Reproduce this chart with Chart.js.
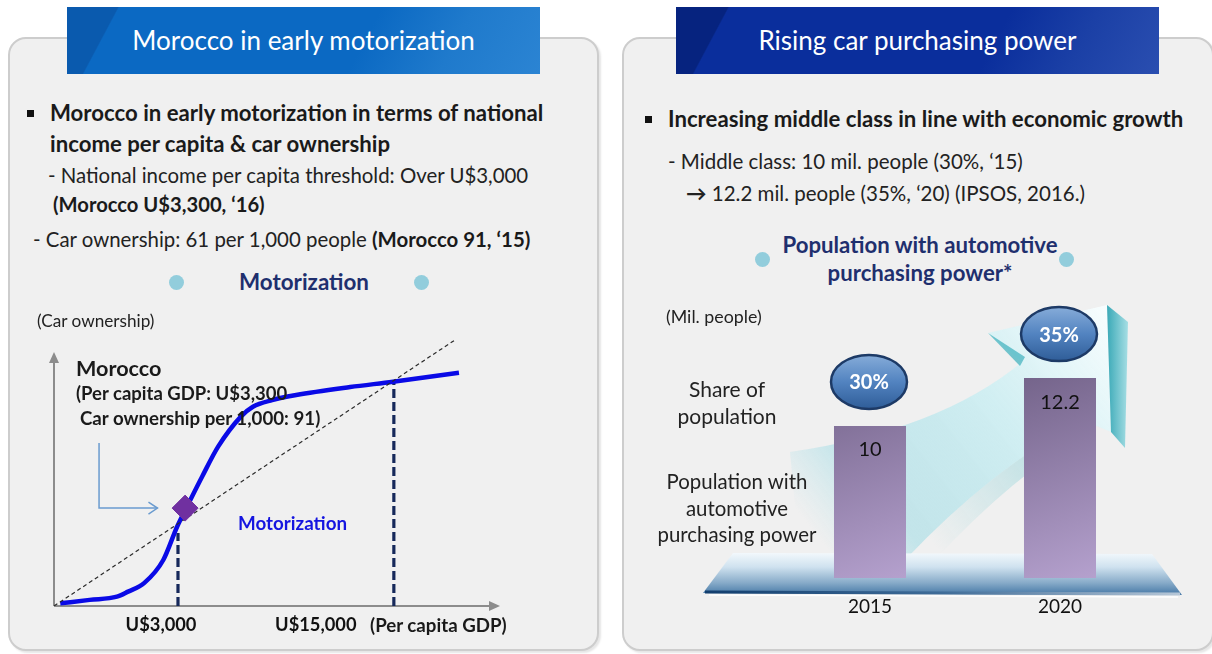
<!DOCTYPE html>
<html><head><meta charset="utf-8">
<script src="https://cdn.jsdelivr.net/npm/chart.js@4.4.1/dist/chart.umd.min.js"></script>
<style>
html,body{margin:0;padding:0;background:#fff;width:1212px;height:654px;overflow:hidden;font-family:Lato,'Noto Sans',sans-serif;color:#1a1a1a;}
.t{position:absolute;white-space:nowrap;line-height:26px;height:26px;}
.c{transform:translateX(-50%);text-align:center;}
.b{font-weight:700;}
.panel{position:absolute;box-sizing:border-box;background:#f0f0f0;border:2px solid #cdcdcd;border-radius:18px;box-shadow:2px 2px 2px rgba(0,0,0,0.10);}
.banner{position:absolute;top:7px;height:67px;line-height:66px;color:#fff;font-size:26px;text-align:center;}
.sq{position:absolute;width:7px;height:7px;background:#111;}
.dot{position:absolute;width:15px;height:15px;border-radius:50%;background:#92cddc;}
canvas{position:absolute;}
</style></head>
<body>
<div class="panel" style="left:8px;top:37px;width:591px;height:614px;"></div>
<div class="panel" style="left:622px;top:37px;width:592px;height:614px;"></div>
<div class="banner" style="left:67px;width:473px;background:linear-gradient(118deg,#0a5aae 0%,#0a5aae 10%,#0b69c3 10.3%,#0b69c3 62%,#1f7acc 80%,#2b84d3 100%);">Morocco in early motorization</div>
<div class="banner" style="left:676px;width:483px;background:linear-gradient(118deg,#06237f 0%,#06237f 10%,#0a2e9c 10.3%,#0a2e9c 65%,#1b40a6 82%,#2a4eb0 100%);">Rising car purchasing power</div>

<!-- left texts -->
<div class="sq" style="left:27px;top:110px;"></div>
<div class="t b" style="left:50px;top:100px;font-size:22.2px;">Morocco in early motorization in terms of national</div>
<div class="t b" style="left:50px;top:131px;font-size:22.2px;">income per capita &amp; car ownership</div>
<div class="t" style="left:48px;top:162px;font-size:20.4px;color:#222;">- National income per capita threshold: Over U$3,000</div>
<div class="t b" style="left:53px;top:191px;font-size:20.2px;">(Morocco U$3,300, ‘16)</div>
<div class="t" style="left:33px;top:226px;font-size:20.4px;color:#222;">- Car ownership: 61 per 1,000 people <span class="b" style="color:#1a1a1a;">(Morocco 91, ‘15)</span></div>
<div class="dot" style="left:169px;top:275px;"></div>
<div class="dot" style="left:414px;top:275px;"></div>
<div class="t b c" style="left:304px;top:269px;font-size:22.4px;color:#1f2f6e;">Motorization</div>

<!-- right texts -->
<div class="sq" style="left:645px;top:116px;"></div>
<div class="t b" style="left:668px;top:106px;font-size:22.2px;">Increasing middle class in line with economic growth</div>
<div class="t" style="left:668px;top:148px;font-size:20.5px;color:#222;">- Middle class: 10 mil. people (30%, ‘15)</div>
<div class="t" style="left:686px;top:180px;font-size:20.5px;color:#222;"><span class="b">→</span> 12.2 mil. people (35%, ‘20) (IPSOS, 2016.)</div>
<div class="dot" style="left:755px;top:252px;"></div>
<div class="dot" style="left:1059px;top:252px;"></div>
<div class="t b c" style="left:920px;top:232px;font-size:22.2px;color:#1f2f6e;">Population with automotive</div>
<div class="t b c" style="left:920px;top:260px;font-size:22.2px;color:#1f2f6e;">purchasing power*</div>

<canvas id="left" width="600" height="350" style="left:0;top:300px;width:600px;height:350px;"></canvas>
<canvas id="right" width="588" height="360" style="left:622px;top:290px;width:588px;height:360px;"></canvas>

<!-- chart annotation texts (left) -->
<div class="t" style="left:37px;top:308px;font-size:17.2px;color:#222;">(Car ownership)</div>
<div class="t b" style="left:76px;top:355px;font-size:21.6px;">Morocco</div>
<div class="t b" style="left:76px;top:380px;font-size:18.5px;">(Per capita GDP: U$3,300</div>
<div class="t b" style="left:80px;top:405px;font-size:18.7px;">Car ownership per 1,000: 91)</div>
<div class="t b" style="left:238px;top:510px;font-size:18.8px;color:#1515e0;">Motorization</div>
<div class="t b" style="left:370px;top:612px;font-size:18.7px;">(Per capita GDP)</div>

<!-- chart annotation texts (right) -->
<div class="t" style="left:666px;top:303px;font-size:17.8px;color:#222;">(Mil. people)</div>
<div class="t c" style="left:727px;top:376px;font-size:21px;color:#222;">Share of</div>
<div class="t c" style="left:727px;top:403px;font-size:21px;color:#222;">population</div>
<div class="t c" style="left:737px;top:468px;font-size:20.4px;color:#222;">Population with</div>
<div class="t c" style="left:737px;top:495px;font-size:20.4px;color:#222;">automotive</div>
<div class="t c" style="left:737px;top:521px;font-size:20.4px;color:#222;">purchasing power</div>

<script>
// ---------- DATA ----------
// Left: conceptual motorization S-curve (index units 0-100 on both axes)
const curveX = [1.4, 8.0, 14.1, 16.6, 20.2, 24.5, 27.6, 29.8, 33.2, 36.8, 41.9, 44.6, 48.9, 54.3, 66.4, 76.0, 90.8];
const curveY = [1.0, 2.3, 3.5, 5.4, 8.6, 17.3, 29.8, 37.3, 48.6, 59.9, 71.2, 74.9, 77.4, 79.3, 82.3, 84.3, 87.7];
const diagonalX = [0, 89.9];
const diagonalY = [0, 100];
const threshold1X = [27.8, 27.8];
const threshold1Y = [0, 27.4];
const threshold2X = [76.2, 76.2];
const threshold2Y = [0, 84.2];
const moroccoX = [29.4];
const moroccoY = [36.8];
const pointerX = [10.1, 10.1, 23.2];
const pointerY = [61.3, 36.8, 36.8];
const xTickValues = [24.0, 58.7];
const xTickLabels = ['U$3,000', 'U$15,000'];

// Right: population with automotive purchasing power (mil. people)
const years = ['2015', '2020'];
const population = [10, 12.2];
const shares = ['30%', '35%'];

Chart.defaults.font.family = 'Lato, "Noto Sans", sans-serif';
Chart.defaults.color = '#111';

const pts = (xs, ys) => xs.map((x, i) => ({x: x, y: ys[i]}));

// ---------- LEFT CHART ----------
const leftDeco = {
  id: 'leftDeco',
  beforeDatasetsDraw(chart) {
    const {ctx, scales: {x, y}} = chart;
    const x0 = x.getPixelForValue(0), y0 = y.getPixelForValue(0);
    const xEnd = x.getPixelForValue(100), yEnd = y.getPixelForValue(95.5);
    ctx.save();
    ctx.strokeStyle = '#8c8c8c'; ctx.fillStyle = '#8c8c8c'; ctx.lineWidth = 2;
    ctx.beginPath(); ctx.moveTo(x0, y0); ctx.lineTo(xEnd - 8, y0); ctx.stroke();
    ctx.beginPath(); ctx.moveTo(xEnd, y0); ctx.lineTo(xEnd - 11, y0 - 5); ctx.lineTo(xEnd - 11, y0 + 5); ctx.closePath(); ctx.fill();
    ctx.beginPath(); ctx.moveTo(x0, y0); ctx.lineTo(x0, yEnd + 8); ctx.stroke();
    ctx.beginPath(); ctx.moveTo(x0, yEnd); ctx.lineTo(x0 - 5, yEnd + 11); ctx.lineTo(x0 + 5, yEnd + 11); ctx.closePath(); ctx.fill();
    ctx.restore();
  },
  afterDatasetsDraw(chart) {
    const {ctx, scales: {x, y}} = chart;
    const n = pointerX.length - 1;
    const tx = x.getPixelForValue(pointerX[n]), ty = y.getPixelForValue(pointerY[n]);
    ctx.save();
    ctx.strokeStyle = '#6a9bcf'; ctx.lineWidth = 1.5;
    ctx.beginPath(); ctx.moveTo(tx - 9, ty - 6); ctx.lineTo(tx, ty); ctx.lineTo(tx - 9, ty + 6); ctx.stroke();
    ctx.restore();
  }
};

new Chart(document.getElementById('left'), {
  type: 'scatter',
  data: {
    datasets: [
      {data: pts(moroccoX, moroccoY), pointStyle: 'rectRot', pointRadius: 13, backgroundColor: '#7030a0', borderColor: '#7030a0', showLine: false},
      {data: pts(diagonalX, diagonalY), showLine: true, borderColor: '#2a2a2a', borderWidth: 1.2, borderDash: [4, 3], pointRadius: 0},
      {data: pts(curveX, curveY), showLine: true, borderColor: '#0a0ae6', borderWidth: 4.5, pointRadius: 0, cubicInterpolationMode: 'monotone'},
      {data: pts(threshold1X, threshold1Y), showLine: true, borderColor: '#16285a', borderWidth: 3.2, borderDash: [9, 4], pointRadius: 0},
      {data: pts(threshold2X, threshold2Y), showLine: true, borderColor: '#16285a', borderWidth: 3.2, borderDash: [9, 4], pointRadius: 0},
      {data: pts(pointerX, pointerY), showLine: true, borderColor: '#6a9bcf', borderWidth: 1.5, pointRadius: 0, tension: 0}
    ]
  },
  options: {
    responsive: false, animation: false,
    layout: {padding: {left: 54, right: 100, top: 40, bottom: 14}},
    plugins: {legend: {display: false}, tooltip: {enabled: false}},
    scales: {
      x: {
        type: 'linear', min: 0, max: 100,
        grid: {display: false, drawTicks: false}, border: {display: false},
        afterBuildTicks: (axis) => { axis.ticks = xTickValues.map(v => ({value: v})); },
        afterFit: (scale) => { scale.height = 30; },
        ticks: {autoSkip: false, maxRotation: 0, minRotation: 0, padding: 8,
          font: {size: 18.3, weight: 'bold'}, color: '#111',
          callback: (v, i) => xTickLabels[i]}
      },
      y: {type: 'linear', min: 0, max: 100, display: false}
    }
  },
  plugins: [leftDeco]
});

// ---------- RIGHT CHART ----------
const OX = 622, OY = 290; // canvas offset on page (for decorative shapes)
const rightDeco = {
  id: 'rightDeco',
  beforeDatasetsDraw(chart) {
    const {ctx, chartArea: a} = chart;
    const P = (px, py) => [px - OX, py - OY];
    ctx.save();
    // rising arrow band
    let g = ctx.createLinearGradient(...P(820, 540), ...P(1110, 310));
    g.addColorStop(0, 'rgba(185,228,235,0.0)');
    g.addColorStop(0.2, 'rgba(170,222,230,0.65)');
    g.addColorStop(0.6, 'rgba(205,238,242,0.9)');
    g.addColorStop(1, 'rgba(248,253,254,1)');
    ctx.fillStyle = g;
    ctx.beginPath();
    ctx.moveTo(...P(790, 452));
    ctx.quadraticCurveTo(...P(940, 430), ...P(1022, 362));
    ctx.lineTo(...P(988, 333));
    ctx.lineTo(...P(1107, 305));
    ctx.lineTo(...P(1111, 432));
    ctx.lineTo(...P(1082, 420));
    ctx.quadraticCurveTo(...P(990, 470), ...P(905, 560));
    ctx.lineTo(...P(800, 560));
    ctx.closePath();
    ctx.fill();
    // teal shading along lower edge
    g = ctx.createLinearGradient(...P(930, 540), ...P(1090, 420));
    g.addColorStop(0, 'rgba(120,205,212,0)');
    g.addColorStop(1, 'rgba(110,200,208,0.55)');
    ctx.fillStyle = g;
    ctx.beginPath();
    ctx.moveTo(...P(1082, 420));
    ctx.quadraticCurveTo(...P(990, 470), ...P(905, 560));
    ctx.lineTo(...P(935, 560));
    ctx.quadraticCurveTo(...P(1010, 478), ...P(1096, 426));
    ctx.closePath();
    ctx.fill();
    // 3D right edge of arrow head
    g = ctx.createLinearGradient(...P(1107, 0), ...P(1128, 0));
    g.addColorStop(0, '#3aa9b7'); g.addColorStop(1, '#a6dee4');
    ctx.fillStyle = g;
    ctx.beginPath();
    ctx.moveTo(...P(1107, 305)); ctx.lineTo(...P(1128, 322)); ctx.lineTo(...P(1125, 448)); ctx.lineTo(...P(1111, 432));
    ctx.closePath(); ctx.fill();
    // fold under left wing
    ctx.fillStyle = 'rgba(70,180,192,0.75)';
    ctx.beginPath();
    ctx.moveTo(...P(988, 333)); ctx.lineTo(...P(1025, 357)); ctx.lineTo(...P(1020, 366));
    ctx.closePath(); ctx.fill();

    // platform
    const tl = [a.left - 42, a.bottom - 25], tr = [a.right - 3, a.bottom - 24];
    const br = [a.right + 27, a.bottom + 17], bl = [a.left - 72, a.bottom + 15];
    g = ctx.createLinearGradient(0, tl[1], 0, bl[1]);
    g.addColorStop(0, '#f2f8fc'); g.addColorStop(0.35, '#cfe2ef'); g.addColorStop(0.75, '#86aac8'); g.addColorStop(1, '#4f7fab');
    ctx.fillStyle = g;
    ctx.beginPath(); ctx.moveTo(...tl); ctx.lineTo(...tr); ctx.lineTo(...br); ctx.lineTo(...bl); ctx.closePath(); ctx.fill();
    g = ctx.createLinearGradient(bl[0], 0, br[0], 0);
    g.addColorStop(0, '#123e6e'); g.addColorStop(0.5, '#3f6c98'); g.addColorStop(1, '#b8c8d8');
    ctx.strokeStyle = g; ctx.lineWidth = 3;
    ctx.beginPath(); ctx.moveTo(bl[0] + 2, bl[1] - 1); ctx.lineTo(br[0] - 2, br[1] - 1); ctx.stroke();
    ctx.strokeStyle = 'rgba(255,255,255,0.9)'; ctx.lineWidth = 1.5;
    ctx.beginPath(); ctx.moveTo(bl[0] + 6, bl[1] + 2); ctx.lineTo(br[0] - 4, br[1] + 2); ctx.stroke();
    ctx.restore();
  },
  afterDatasetsDraw(chart) {
    const {ctx} = chart;
    const meta = chart.getDatasetMeta(0);
    ctx.save();
    meta.data.forEach((bar, i) => {
      // value label inside bar
      ctx.fillStyle = '#111';
      ctx.font = '20px Lato, "Noto Sans", sans-serif';
      ctx.textAlign = 'center'; ctx.textBaseline = 'middle';
      ctx.fillText(String(population[i]), bar.x, bar.y + 24);
      // share ellipse
      const cx = bar.x - 1, cy = bar.y - 44, rx = 38, ry = 27;
      const g = ctx.createLinearGradient(0, cy - ry, 0, cy + ry);
      g.addColorStop(0, '#86acd9'); g.addColorStop(0.5, '#5283c0'); g.addColorStop(1, '#2f5d98');
      ctx.beginPath(); ctx.ellipse(cx, cy, rx, ry, 0, 0, Math.PI * 2);
      ctx.fillStyle = g; ctx.fill();
      ctx.lineWidth = 2.5; ctx.strokeStyle = '#1d3a66'; ctx.stroke();
      ctx.fillStyle = '#ffffff';
      ctx.font = 'bold 20px Lato, "Noto Sans", sans-serif';
      ctx.fillText(shares[i], cx, cy + 1);
    });
    ctx.restore();
  }
};

new Chart(document.getElementById('right'), {
  type: 'bar',
  data: {
    labels: years,
    datasets: [{
      data: population,
      backgroundColor: (c) => {
        const chart = c.chart;
        const {ctx, chartArea, scales} = chart;
        if (!chartArea || !scales.x || c.dataIndex === undefined) return '#9a88b0';
        const x = scales.x.getPixelForValue(c.dataIndex);
        const g = ctx.createLinearGradient(x - 40, chartArea.top + 60, x + 40, chartArea.bottom);
        g.addColorStop(0, '#6e5e84'); g.addColorStop(1, '#b5a1ce');
        return g;
      },
      borderWidth: 0,
      categoryPercentage: 1, barPercentage: 0.379
    }]
  },
  options: {
    responsive: false, animation: false,
    layout: {padding: {left: 153, right: 55, top: 5.5, bottom: 32}},
    plugins: {legend: {display: false}, tooltip: {enabled: false}},
    scales: {
      x: {
        grid: {display: false, drawTicks: false}, border: {display: false},
        afterFit: (scale) => { scale.height = 40; },
        ticks: {padding: 17, font: {size: 19}, color: '#111'}
      },
      y: {min: 3, max: 16, display: false}
    }
  },
  plugins: [rightDeco]
});
</script>
</body></html>
